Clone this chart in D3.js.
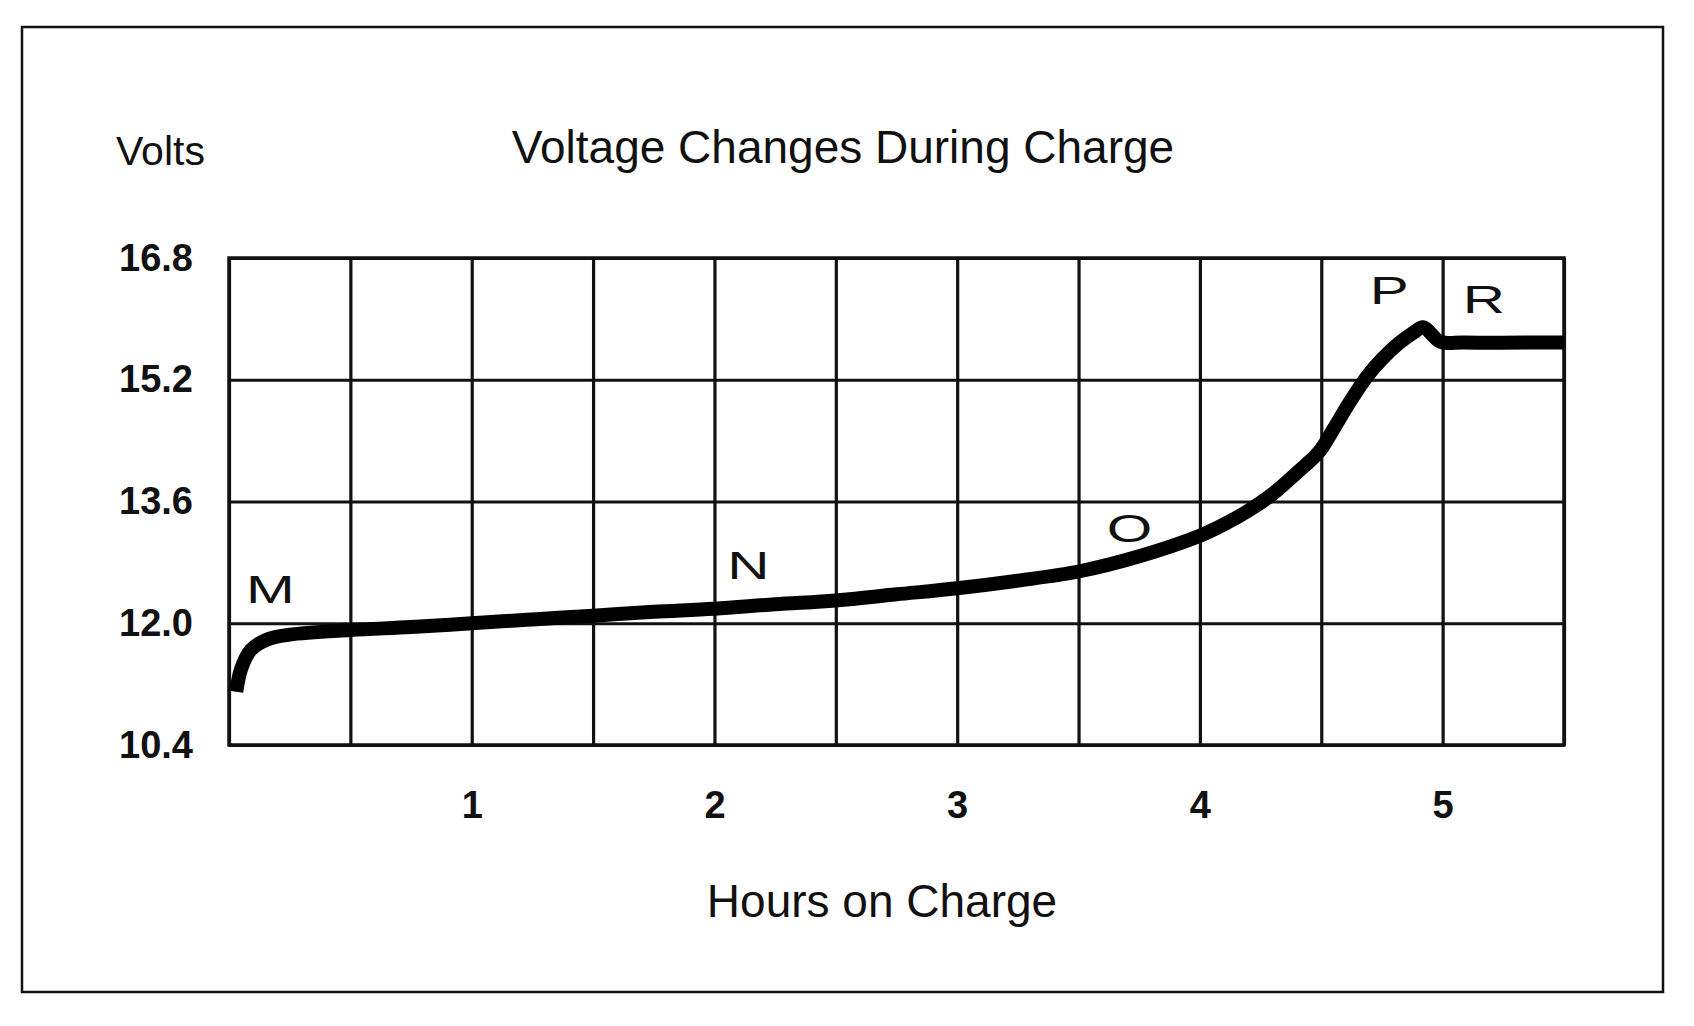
<!DOCTYPE html>
<html>
<head>
<meta charset="utf-8">
<script src="https://cdn.jsdelivr.net/npm/d3@7"></script>
<style>
  html, body { margin: 0; padding: 0; background: #fff; }
  svg { display: block; }
  text { font-family: "Liberation Sans", Arial, sans-serif; fill: #111; }
</style>
</head>
<body>
<svg id="chart" width="1694" height="1026"></svg>
<script>
// ---- data ----
const hours = [0.03, 0.05, 0.09, 0.16, 0.25, 0.5, 0.75, 1.0, 1.25, 1.5, 1.75, 2.0, 2.25, 2.5, 2.75, 3.0, 3.25, 3.5, 3.75, 4.0, 4.1, 4.2, 4.3, 4.4, 4.49, 4.55, 4.62, 4.69, 4.75, 4.82, 4.88, 4.92, 4.99, 5.09, 5.5];
const volts = [11.1, 11.4, 11.65, 11.79, 11.85, 11.91, 11.95, 12.0, 12.05, 12.1, 12.15, 12.19, 12.25, 12.3, 12.38, 12.46, 12.56, 12.68, 12.88, 13.15, 13.3, 13.48, 13.7, 13.98, 14.25, 14.55, 14.92, 15.25, 15.47, 15.68, 15.82, 15.89, 15.7, 15.69, 15.69];
const voltTicks = [10.4, 12.0, 13.6, 15.2, 16.8];
const hourTicks = [1, 2, 3, 4, 5];
const gridHours = [0, 0.5, 1, 1.5, 2, 2.5, 3, 3.5, 4, 4.5, 5, 5.5];
const stageLabels = ["M", "N", "O", "P", "R"];
const stageHours = [0.17, 2.14, 3.71, 4.78, 5.17];
const stageVolts = [12.27, 12.58, 13.07, 16.19, 16.08];
const titleText = "Voltage Changes During Charge";
const yTitle = "Volts";
const xTitle = "Hours on Charge";

// ---- layout ----
const svg = d3.select("#chart");
svg.append("rect").attr("width", 1694).attr("height", 1026).attr("fill", "#fff");
svg.append("rect").attr("x", 22).attr("y", 27).attr("width", 1641).attr("height", 965)
  .attr("fill", "none").attr("stroke", "#111").attr("stroke-width", 2.5);

const L = 229, R = 1564, T = 258, B = 745;
const x = d3.scaleLinear().domain([0, 5.5]).range([L, R]);
const y = d3.scaleLinear().domain([10.4, 16.8]).range([B, T]);

// vertical grid
const gx = svg.append("g").attr("transform", `translate(0,${B})`)
  .call(d3.axisBottom(x).tickValues(gridHours).tickSize(-(B - T)).tickFormat(""));
gx.select(".domain").remove();
gx.selectAll(".tick line").attr("stroke", "#111").attr("stroke-width", 3.2);

// horizontal grid + labels
const gy = svg.append("g").attr("transform", `translate(${L},0)`)
  .call(d3.axisLeft(y).tickValues(voltTicks).tickSize(-(R - L)).tickPadding(36).tickFormat(d3.format(".1f")));
gy.select(".domain").remove();
gy.selectAll(".tick line").attr("stroke", "#111").attr("stroke-width", 3.2);
gy.selectAll(".tick text").attr("font-size", 38).attr("font-weight", "bold")
  .attr("font-family", "Liberation Sans, Arial, sans-serif").attr("fill", "#111");

// x tick labels
const gl = svg.append("g").attr("transform", `translate(0,${B})`)
  .call(d3.axisBottom(x).tickValues(hourTicks).tickSize(0).tickPadding(46).tickFormat(d3.format("d")));
gl.select(".domain").remove();
gl.selectAll(".tick text").attr("font-size", 38).attr("font-weight", "bold")
  .attr("font-family", "Liberation Sans, Arial, sans-serif").attr("fill", "#111");

// frame of plot
svg.append("rect").attr("x", L).attr("y", T).attr("width", R - L).attr("height", B - T)
  .attr("fill", "none").attr("stroke", "#111").attr("stroke-width", 3.5);

// curve
const pts = hours.map((h, i) => [h, volts[i]]);
const line = d3.line().x(d => x(d[0])).y(d => y(d[1])).curve(d3.curveCatmullRom.alpha(0.5));
svg.append("path").attr("d", line(pts)).attr("fill", "none").attr("stroke", "#000")
  .attr("stroke-width", 14).attr("stroke-linejoin", "round").attr("stroke-linecap", "butt");

// stage letters
stageLabels.forEach((s, i) => {
  svg.append("text")
    .attr("transform", `translate(${x(stageHours[i])},${y(stageVolts[i])}) scale(1.5,1)`)
    .attr("text-anchor", "middle")
    .attr("font-family", "DejaVu Sans, sans-serif")
    .attr("font-size", 39)
    .attr("font-weight", 300)
    .text(s);
});

// titles
svg.append("text").attr("x", 843).attr("y", 163).attr("text-anchor", "middle")
  .attr("font-size", 46).text(titleText);
svg.append("text").attr("x", 116).attr("y", 165).attr("font-size", 41).text(yTitle);
svg.append("text").attr("x", 882).attr("y", 917).attr("text-anchor", "middle")
  .attr("font-size", 46).text(xTitle);
</script>
</body>
</html>
